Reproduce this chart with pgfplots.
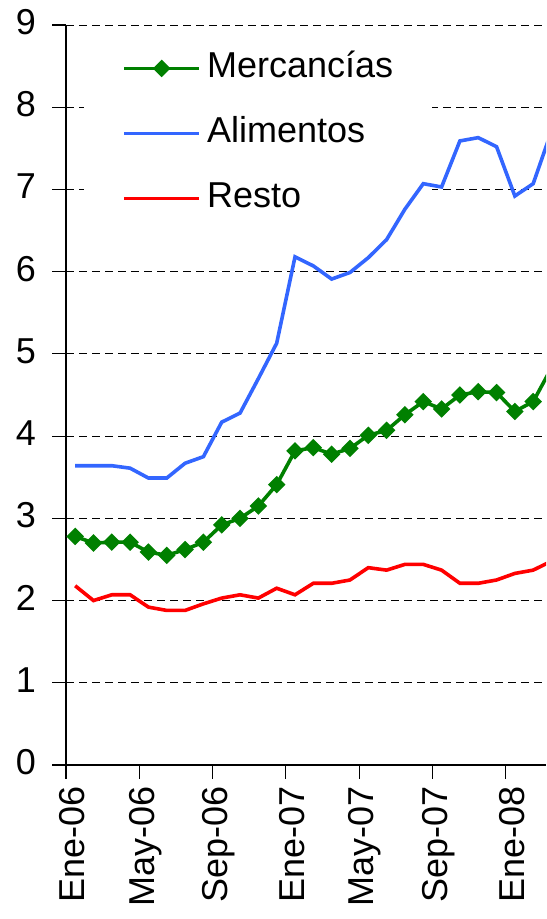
\documentclass[border=0pt]{standalone}
\usepackage{pgfplots}
\pgfplotsset{compat=1.18}
\usepackage{pgfplotstable}
\usepackage{fontspec}
\setmainfont{Liberation Sans}
\definecolor{cgreen}{HTML}{008000}
\definecolor{cblue}{HTML}{3366FF}
\definecolor{cred}{HTML}{FF0000}
\pgfplotstableread{
i    merc  alim  resto
0.5  2.78  3.64  2.18
1.5  2.70  3.64  2.00
2.5  2.71  3.64  2.07
3.5  2.71  3.61  2.07
4.5  2.59  3.49  1.92
5.5  2.55  3.49  1.88
6.5  2.62  3.67  1.88
7.5  2.71  3.75  1.96
8.5  2.92  4.17  2.03
9.5  3.00  4.28  2.07
10.5 3.15  4.70  2.03
11.5 3.41  5.13  2.15
12.5 3.82  6.18  2.07
13.5 3.86  6.07  2.21
14.5 3.78  5.91  2.21
15.5 3.85  5.99  2.25
16.5 4.01  6.17  2.40
17.5 4.07  6.39  2.37
18.5 4.26  6.76  2.44
19.5 4.42  7.07  2.44
20.5 4.33  7.03  2.37
21.5 4.50  7.59  2.21
22.5 4.54  7.63  2.21
23.5 4.53  7.52  2.25
24.5 4.30  6.92  2.33
25.5 4.42  7.07  2.37
26.5 4.83  7.71  2.48
}\datatable
\begin{document}
\begin{tikzpicture}
\begin{axis}[
  set layers=standard,
  name=ax,
  at={(0,0)}, anchor=south west,
  scale only axis,
  width=240pt, height=370pt,
  xmin=0, xmax=26.2,
  ymin=0, ymax=9,
  axis x line*=bottom, axis y line*=left,
  axis line style={line width=0.9pt, black},
  tick align=outside,
  major tick length=7pt,
  tick style={line width=0.6pt, black},
  xtick={0,4,8,12,16,20,24},
  xticklabels={Ene-06,May-06,Sep-06,Ene-07,May-07,Sep-07,Ene-08},
  ytick={0,1,...,9},
  ymajorgrids=true,
  grid style={black, line width=0.5pt, dash pattern=on 4pt off 2.5pt},
  /pgf/number format/assume math mode=true,
  xticklabel style={rotate=90, anchor=east, yshift=-3pt, font=\fontsize{18}{21}\selectfont},
  yticklabel style={xshift=-4.5pt, yshift=1.5pt, font=\fontsize{18}{21}\selectfont},
  legend style={
    at={(axis description cs:0.0417,0.981)}, anchor=north west,
    draw=none, fill=none,
    font=\fontsize{18}{21}\selectfont,
    inner xsep=18pt, inner ysep=6pt,
    row sep=15.5pt,
    nodes={inner xsep=3pt, inner ysep=0pt, text height=13pt, text depth=4pt},
  },
  legend cell align=left,
  legend image code/.code={
    \draw[mark repeat=2,mark phase=2,#1] plot coordinates {(0pt,0pt) (18.75pt,0pt) (37.5pt,0pt)};
  },
]
\begin{pgfonlayer}{pre main}
\fill[white] (axis description cs:0.0375,0.981) rectangle (axis description cs:0.7625,0.727);
\end{pgfonlayer}
\addplot[cgreen, line width=1.8pt, mark=square*, mark size=2.2pt, mark options={rotate=45, solid, fill=cgreen}] table[x=i, y=merc] {\datatable};
\addlegendentry{Mercancías}
\addplot[cblue, line width=1.8pt] table[x=i, y=alim] {\datatable};
\addlegendentry{Alimentos}
\addplot[cred, line width=1.8pt] table[x=i, y=resto] {\datatable};
\addlegendentry{Resto}
\end{axis}
\pgfresetboundingbox
\useasboundingbox ([xshift=-33pt,yshift=-77pt]ax.south west) rectangle ([yshift=12.5pt]ax.north east);
\end{tikzpicture}
\end{document}
